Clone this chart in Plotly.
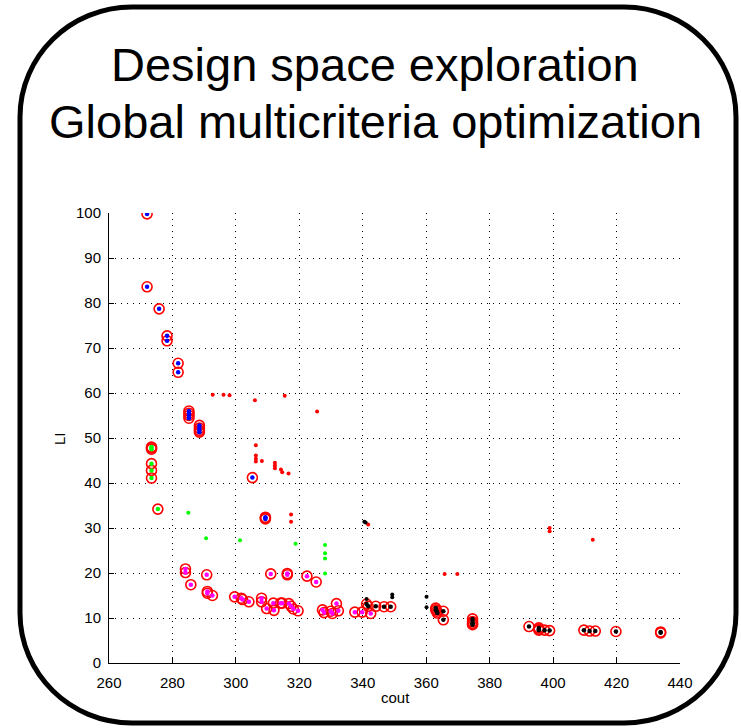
import plotly.graph_objects as go

# ---- Pareto-front candidates (red rings), grouped by the colour of the inner dot ----
front_blue_x = [272.0, 272.0, 275.8, 278.3, 278.3, 281.8, 281.8, 285.2, 285.2, 285.2, 285.2,
                288.5, 288.5, 288.5, 288.5, 305.2, 309.3, 309.3, 309.3]
front_blue_y = [99.8, 83.6, 78.7, 72.7, 71.6, 66.6, 64.6, 56.0, 55.5, 55.0, 54.4,
                52.8, 52.2, 51.7, 51.3, 41.2, 32.4, 32.2, 32.0]

front_green_x = [273.4, 273.4, 273.4, 273.4, 273.4, 273.4, 275.4]
front_green_y = [48.0, 47.8, 47.5, 44.3, 42.8, 41.1, 34.2]

front_magenta_x = [284.1, 284.1, 285.8, 290.8, 291.0, 291.0, 292.6, 299.6, 301.7, 302.1, 304.1,
                   308.1, 308.1, 309.7, 311.0, 316.2, 316.2, 311.8, 312.0, 314.1, 314.6, 316.7,
                   317.4, 318.1, 319.6, 322.4, 325.3, 327.3, 327.8, 329.9, 330.4, 331.7, 332.3,
                   337.5, 339.8, 342.5]
front_magenta_y = [20.9, 20.1, 17.4, 19.6, 15.9, 15.5, 15.0, 14.7, 14.4, 14.1, 13.6,
                   14.4, 13.6, 12.1, 19.8, 19.9, 19.6, 13.3, 11.7, 13.3, 13.3, 13.2,
                   12.6, 12.0, 11.6, 19.3, 18.0, 11.8, 11.2, 11.5, 11.0, 13.2, 11.6,
                   11.3, 11.3, 11.0]

front_black_x = [341.2, 341.7, 344.1, 346.7, 348.8, 363.0, 363.0, 363.3, 363.5, 365.4, 365.4,
                 374.6, 374.6, 374.6, 374.6, 392.4, 395.5, 395.5, 395.5, 397.3, 398.9,
                 409.7, 411.5, 413.3, 419.8, 433.9, 433.9]
front_black_y = [13.1, 12.6, 12.6, 12.5, 12.5, 12.2, 11.8, 11.5, 11.1, 11.5, 9.6,
                 9.8, 9.2, 8.8, 8.5, 8.1, 7.8, 7.5, 7.3, 7.3, 7.2,
                 7.3, 7.1, 7.1, 7.0, 6.9, 6.7]

# ---- Other explored designs (plain dots) ----
red_dots_x = [292.7, 296.1, 298.0, 306.0, 315.4, 325.6, 306.3, 306.3, 306.3, 306.3, 308.2,
              312.3, 312.3, 312.3, 314.2, 314.6, 316.6, 317.4, 317.4, 341.7, 365.8, 369.8,
              398.9, 398.9, 412.5]
red_dots_y = [59.6, 59.6, 59.5, 58.4, 59.4, 55.9, 48.4, 46.1, 45.4, 44.8, 44.9,
              44.5, 43.9, 43.3, 43.0, 42.4, 42.1, 33.0, 31.4, 30.8, 19.8, 19.8,
              30.0, 29.3, 27.4]

green_dots_x = [285.0, 290.6, 301.3, 318.8, 328.1, 328.1, 328.1, 328.1]
green_dots_y = [33.4, 27.7, 27.3, 26.5, 26.2, 24.4, 23.2, 19.9]

black_dots_x = [340.5, 340.9, 341.2, 349.3, 349.3, 360.1, 360.1]
black_dots_y = [31.4, 31.2, 14.2, 15.2, 14.6, 14.7, 12.4]

x_ticks = [260, 280, 300, 320, 340, 360, 380, 400, 420, 440]
y_ticks = [0, 10, 20, 30, 40, 50, 60, 70, 80, 90, 100]

# ---- Page geometry (pixels) ----
W, H = 741, 728
PLOT_L, PLOT_R, PLOT_T, PLOT_B = 109, 680, 213, 663
FONT = "Liberation Sans, Arial, Helvetica, sans-serif"


def px_x(p):
    return (p - PLOT_L) / (PLOT_R - PLOT_L)


def px_y(p):
    return (PLOT_B - p) / (PLOT_B - PLOT_T)


fig = go.Figure()

fronts = [
    (front_blue_x, front_blue_y, "#0000ff"),
    (front_green_x, front_green_y, "#00ff00"),
    (front_magenta_x, front_magenta_y, "#ff00ff"),
    (front_black_x, front_black_y, "#000000"),
]

for fx, fy, _ in fronts:
    fig.add_trace(go.Scatter(
        x=fx, y=fy, mode="markers", showlegend=False, hoverinfo="skip",
        marker=dict(symbol="circle-open", size=10, color="#ff0000",
                    line=dict(width=1.6, color="#ff0000")),
    ))

for dx, dy, col in [(red_dots_x, red_dots_y, "#ff0000"),
                    (green_dots_x, green_dots_y, "#00ff00"),
                    (black_dots_x, black_dots_y, "#000000")]:
    fig.add_trace(go.Scatter(
        x=dx, y=dy, mode="markers", showlegend=False,
        marker=dict(symbol="circle", size=4, color=col, line=dict(width=0)),
    ))

for fx, fy, col in fronts:
    fig.add_trace(go.Scatter(
        x=fx, y=fy, mode="markers", showlegend=False,
        marker=dict(symbol="circle", size=4.5, color=col, line=dict(width=0)),
    ))

axis_common = dict(
    showline=True, linecolor="black", linewidth=1, mirror=False,
    ticks="inside", ticklen=5, tickwidth=1, tickcolor="black",
    showgrid=True, gridcolor="black", gridwidth=1, griddash="1px,5px",
    zeroline=False, tickfont=dict(family=FONT, size=15, color="black"),
)

fig.update_xaxes(range=[260, 440], tickvals=x_ticks, ticktext=[str(v) for v in x_ticks],
                 ticklabelstandoff=6, **axis_common)
fig.update_yaxes(range=[0, 100], tickvals=y_ticks, ticktext=[str(v) for v in y_ticks],
                 ticklabelstandoff=4, **axis_common)

# rounded frame around the whole slide
fl, fr, ft, fb = 20, 736, 7, 723
rx, ry = 112, 110
k = 0.5523
pts = [
    ("M", (fl + rx, ft)),
    ("L", (fr - rx, ft)),
    ("C", (fr - rx + k * rx, ft), (fr, ft + ry - k * ry), (fr, ft + ry)),
    ("L", (fr, fb - ry)),
    ("C", (fr, fb - ry + k * ry), (fr - rx + k * rx, fb), (fr - rx, fb)),
    ("L", (fl + rx, fb)),
    ("C", (fl + rx - k * rx, fb), (fl, fb - ry + k * ry), (fl, fb - ry)),
    ("L", (fl, ft + ry)),
    ("C", (fl, ft + ry - k * ry), (fl + rx - k * rx, ft), (fl + rx, ft)),
]
path = ""
for item in pts:
    cmd, coords = item[0], item[1:]
    path += cmd + " " + " ".join(f"{px_x(a):.5f},{px_y(b):.5f}" for a, b in coords) + " "
path += "Z"

fig.add_shape(type="path", path=path, xref="paper", yref="paper",
              line=dict(color="black", width=5), fillcolor="rgba(0,0,0,0)", layer="above")

annotations = [
    dict(text="Design space exploration", x=px_x(375), y=px_y(64), size=47),
    dict(text="Global multicriteria optimization", x=px_x(375), y=px_y(121), size=47),
    dict(text="cout", x=px_x(395), y=px_y(697), size=15),
]
for a in annotations:
    fig.add_annotation(text=a["text"], x=a["x"], y=a["y"], xref="paper", yref="paper",
                       xanchor="center", yanchor="middle", showarrow=False,
                       font=dict(family=FONT, size=a["size"], color="black"))
fig.add_annotation(text="LI", x=px_x(59), y=px_y(439), xref="paper", yref="paper",
                   xanchor="center", yanchor="middle", showarrow=False, textangle=-90,
                   font=dict(family=FONT, size=15, color="black"))

fig.update_layout(
    width=W, height=H,
    margin=dict(l=PLOT_L, r=W - PLOT_R, t=PLOT_T, b=H - PLOT_B),
    paper_bgcolor="white", plot_bgcolor="white",
    showlegend=False,
)

fig.write_html("out.html")
